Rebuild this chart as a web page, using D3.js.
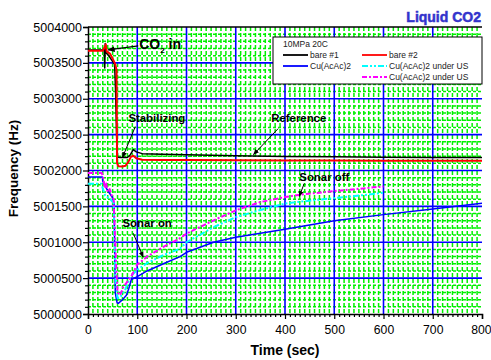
<!DOCTYPE html>
<html>
<head>
<meta charset="utf-8">
<script src="https://cdn.jsdelivr.net/npm/d3@7"></script>
<style>
  body { margin: 0; background: #fff; }
  text { font-family: "Liberation Sans", Arial, sans-serif; }
</style>
</head>
<body>
<div id="chart"></div>
<script>
// time (sec) and frequency (Hz)
const bare1T = [0, 30, 33, 34, 35, 36, 38, 42, 48, 54, 56, 58, 60, 66, 80, 86, 92, 98, 110, 150, 200, 300, 400, 500, 600, 700, 800];
const bare1F = [5003680, 5003680, 5003700, 5003430, 5003770, 5003650, 5003630, 5003600, 5003540, 5003480, 5003100, 5002500, 5002185, 5002180, 5002182, 5002220, 5002290, 5002260, 5002235, 5002228, 5002220, 5002205, 5002195, 5002190, 5002185, 5002182, 5002180];

const bare2T = [0, 30, 34, 36, 38, 45, 50, 55, 58, 59, 62, 70, 76, 82, 87, 92, 98, 110, 150, 200, 300, 400, 500, 600, 700, 800];
const bare2F = [5003670, 5003670, 5003720, 5003760, 5003660, 5003625, 5003560, 5003490, 5003400, 5002100, 5002060, 5002055, 5002065, 5002120, 5002190, 5002205, 5002170, 5002150, 5002148, 5002145, 5002142, 5002140, 5002138, 5002137, 5002136, 5002135];

const cuT = [0, 29, 30, 34, 42, 49, 53, 55.5, 59, 62, 70, 78, 83, 88, 100, 120, 153, 187, 200, 255, 300, 400, 500, 600, 700, 800];
const cuF = [5001910, 5001910, 5001850, 5001790, 5001700, 5001630, 5001540, 5000290, 5000157, 5000150, 5000200, 5000260, 5000360, 5000480, 5000520, 5000600, 5000700, 5000800, 5000860, 5001000, 5001070, 5001180, 5001300, 5001385, 5001463, 5001542];

const us1T = [0, 27, 30, 35, 45, 52, 56, 60, 65, 75, 86, 100, 120, 153, 187, 200, 255, 300, 350, 400, 450, 500, 550, 600];
const us1F = [5001815, 5001815, 5001750, 5001650, 5001600, 5001550, 5000500, 5000220, 5000230, 5000330, 5000520, 5000615, 5000710, 5000820, 5000910, 5001000, 5001210, 5001350, 5001450, 5001540, 5001580, 5001615, 5001650, 5001690];

const us2T = [0, 28, 31, 34, 37, 40, 44, 48, 52, 57, 60, 65, 72, 80, 89, 100, 120, 153, 187, 200, 255, 300, 350, 400, 430, 500, 550, 600];
const us2F = [5001965, 5001965, 5001900, 5001760, 5001820, 5001700, 5001740, 5001660, 5001600, 5000700, 5000300, 5000260, 5000380, 5000450, 5000540, 5000690, 5000800, 5000935, 5001056, 5001120, 5001305, 5001445, 5001560, 5001630, 5001662, 5001713, 5001745, 5001778];

const seriesNames = ["bare #1", "bare #2", "Cu(AcAc)2", "Cu(AcAc)2 under US", "Cu(AcAc)2 under US"];
const seriesColors = ["#000000", "#ff0000", "#0000ff", "#00ffff", "#ff00ff"];
const seriesDash = [null, null, null, "6,2,2,2,2,2", "5,2,2,2"];
const seriesWidth = [1.5, 2, 1.5, 2, 2];

const xTicks = [0, 100, 200, 300, 400, 500, 600, 700, 800];
const yTicks = [5000000, 5000500, 5001000, 5001500, 5002000, 5002500, 5003000, 5003500, 5004000];

// annotations in data units: text position, arrow start, arrow end
const notes = [
  { label: "Stabilizing", t: 82, f: 5002681, from: [96, 5002611], to: [70, 5002181] },
  { label: "Reference", t: 372, f: 5002681, from: [386, 5002583], to: [336, 5002222] },
  { label: "Sonar off", t: 429, f: 5001847, from: [439, 5001819], to: [429, 5001639] },
  { label: "Sonar on", t: 70, f: 5001208, from: [92, 5001125], to: [112, 5000792] }
];
const co2Note = { t: 104, f: 5003694, from: [102, 5003736], to: [41, 5003681] };

const margin = ({top: 27, right: 9, bottom: 46, left: 88});
const width = 491 - margin.left - margin.right;
const height = 360 - margin.top - margin.bottom;

const root = d3.select("#chart").append("svg")
    .attr("width", 491)
    .attr("height", 360);

const defs = root.append("defs");
defs.append("marker")
    .attr("id", "arrow")
    .attr("viewBox", "0 0 10 10")
    .attr("refX", 9).attr("refY", 5)
    .attr("markerWidth", 6).attr("markerHeight", 6)
    .attr("orient", "auto")
    .append("path")
    .attr("d", "M0,1 L10,5 L0,9 z")
    .attr("fill", "#000");
defs.append("clipPath").attr("id", "clip")
    .append("rect").attr("width", width).attr("height", height);

const svg = root.append("g")
    .attr("transform", "translate(" + margin.left + "," + margin.top + ")");

const xScale = d3.scaleLinear().domain([0, 800]).range([0, width]);
const yScale = d3.scaleLinear().domain([5000000, 5004000]).range([height, 0]);

// minor green grid
const xMinor = d3.range(10, 800, 10).filter(d => d % 100 !== 0);
const yMinor = d3.range(5000100, 5004000, 100).filter(d => d % 500 !== 0);

svg.append("g").selectAll("line").data(xMinor).join("line")
    .attr("x1", d => xScale(d)).attr("x2", d => xScale(d))
    .attr("y1", 0).attr("y2", height)
    .attr("stroke", "#00f000").attr("stroke-width", 1.5)
    .attr("stroke-dasharray", "4,2");
svg.append("g").selectAll("line").data(yMinor).join("line")
    .attr("y1", d => yScale(d)).attr("y2", d => yScale(d))
    .attr("x1", 0).attr("x2", width)
    .attr("stroke", "#00f000").attr("stroke-width", 1.5)
    .attr("stroke-dasharray", "3,2");

// major blue grid
svg.append("g").selectAll("line").data(xTicks.slice(1, -1)).join("line")
    .attr("x1", d => xScale(d)).attr("x2", d => xScale(d))
    .attr("y1", 0).attr("y2", height)
    .attr("stroke", "#0000ff").attr("stroke-width", 1.6);
svg.append("g").selectAll("line").data(yTicks.slice(1, -1)).join("line")
    .attr("y1", d => yScale(d)).attr("y2", d => yScale(d))
    .attr("x1", 0).attr("x2", width)
    .attr("stroke", "#0000ff").attr("stroke-width", 1.6);

// top border
svg.append("line")
    .attr("x1", 0).attr("x2", width).attr("y1", 0).attr("y2", 0)
    .attr("stroke", "#000").attr("stroke-width", 1.5);

// axes
const xAxis = d3.axisBottom(xScale).tickValues(xTicks).tickFormat(d3.format("d")).tickSize(5);
const yAxis = d3.axisLeft(yScale).tickValues(yTicks).tickFormat(d3.format("d")).tickSize(5);

const xAxisDisplay = svg.append("g").attr("class", "axis x-axis")
    .attr("transform", `translate(0, ${height})`)
    .call(xAxis);
const yAxisDisplay = svg.append("g").attr("class", "axis y-axis")
    .call(yAxis);

svg.append("g").attr("transform", `translate(0, ${height})`)
    .call(d3.axisBottom(xScale).tickValues(xMinor).tickFormat("").tickSize(3))
    .call(g => g.select(".domain").remove());
svg.append("g")
    .call(d3.axisLeft(yScale).tickValues(yMinor).tickFormat("").tickSize(3))
    .call(g => g.select(".domain").remove());

root.selectAll(".axis .domain").attr("stroke", "#000").attr("stroke-width", 1.5);
root.selectAll(".tick line").attr("stroke", "#000").attr("stroke-width", 1.2);
xAxisDisplay.selectAll("text").attr("font-size", 12.2).attr("fill", "#000").attr("dy", "0.95em");
xAxisDisplay.selectAll(".tick:last-of-type text").attr("text-anchor", "end").attr("dx", 9);
yAxisDisplay.selectAll("text").attr("font-size", 12.5).attr("fill", "#000").attr("x", -6);

// series
const lineGen = d3.line().x(d => xScale(d[0])).y(d => yScale(d[1]));
const allT = [bare1T, bare2T, cuT, us1T, us2T];
const allF = [bare1F, bare2F, cuF, us1F, us2F];
const plot = svg.append("g").attr("clip-path", "url(#clip)");
// draw blue & under-US first, bare lines on top of them
[2, 3, 4, 0, 1].forEach(i => {
  plot.append("path")
      .datum(allT[i].map((t, k) => [t, allF[i][k]]))
      .attr("d", lineGen)
      .attr("fill", "none")
      .attr("stroke", seriesColors[i])
      .attr("stroke-width", seriesWidth[i])
      .attr("stroke-dasharray", seriesDash[i])
      .attr("stroke-linejoin", "round");
});

// annotations
notes.forEach(n => {
  svg.append("text")
      .attr("x", xScale(n.t)).attr("y", yScale(n.f))
      .attr("font-size", 11.4).attr("font-weight", "bold")
      .text(n.label);
  svg.append("line")
      .attr("x1", xScale(n.from[0])).attr("y1", yScale(n.from[1]))
      .attr("x2", xScale(n.to[0])).attr("y2", yScale(n.to[1]))
      .attr("stroke", "#000").attr("stroke-width", 1)
      .attr("marker-end", "url(#arrow)");
});
const co2 = svg.append("text")
    .attr("x", xScale(co2Note.t)).attr("y", yScale(co2Note.f))
    .attr("font-size", 14).attr("font-weight", "bold");
co2.append("tspan").text("CO");
co2.append("tspan").attr("font-size", 8).attr("dy", 4).text("2");
co2.append("tspan").attr("dy", -4).text(" in");
svg.append("line")
    .attr("x1", xScale(co2Note.from[0])).attr("y1", yScale(co2Note.from[1]))
    .attr("x2", xScale(co2Note.to[0])).attr("y2", yScale(co2Note.to[1]))
    .attr("stroke", "#000").attr("stroke-width", 1.2)
    .attr("marker-end", "url(#arrow)");

// legend
const legend = svg.append("g").attr("transform", "translate(185, 10)");
legend.append("rect")
    .attr("width", 209).attr("height", 47)
    .attr("fill", "#fff").attr("stroke", "#000").attr("stroke-width", 1);
legend.append("text").attr("x", 10).attr("y", 10)
    .attr("font-size", 8.5).attr("fill", "#222").text("10MPa 20C");
const legendPos = [[10, 21], [89, 21], [10, 32], [89, 32], [89, 43]];
legendPos.forEach((p, i) => {
  legend.append("line")
      .attr("x1", p[0]).attr("x2", p[0] + 25)
      .attr("y1", p[1] - 3).attr("y2", p[1] - 3)
      .attr("stroke", seriesColors[i]).attr("stroke-width", 1.8)
      .attr("stroke-dasharray", seriesDash[i]);
  legend.append("text")
      .attr("x", p[0] + 27).attr("y", p[1])
      .attr("font-size", 8.5).attr("fill", "#222")
      .text(seriesNames[i]);
});

// titles
root.append("text")
    .attr("x", margin.left + width / 2).attr("y", 355)
    .attr("text-anchor", "middle")
    .attr("font-size", 14).attr("font-weight", "bold")
    .text("Time (sec)");
root.append("text")
    .attr("transform", `translate(18, ${margin.top + height / 2 - 2}) rotate(-90)`)
    .attr("text-anchor", "middle")
    .attr("font-size", 13.5).attr("font-weight", "bold")
    .text("Frequency (Hz)");
root.append("text")
    .attr("x", 481).attr("y", 21.5)
    .attr("text-anchor", "end")
    .attr("font-family", "Liberation Sans Narrow")
    .attr("font-size", 14).attr("font-weight", "bold")
    .attr("fill", "#3333cc")
    .attr("stroke", "#3333cc").attr("stroke-width", 0.5)
    .text("Liquid CO2");
</script>
</body>
</html>
